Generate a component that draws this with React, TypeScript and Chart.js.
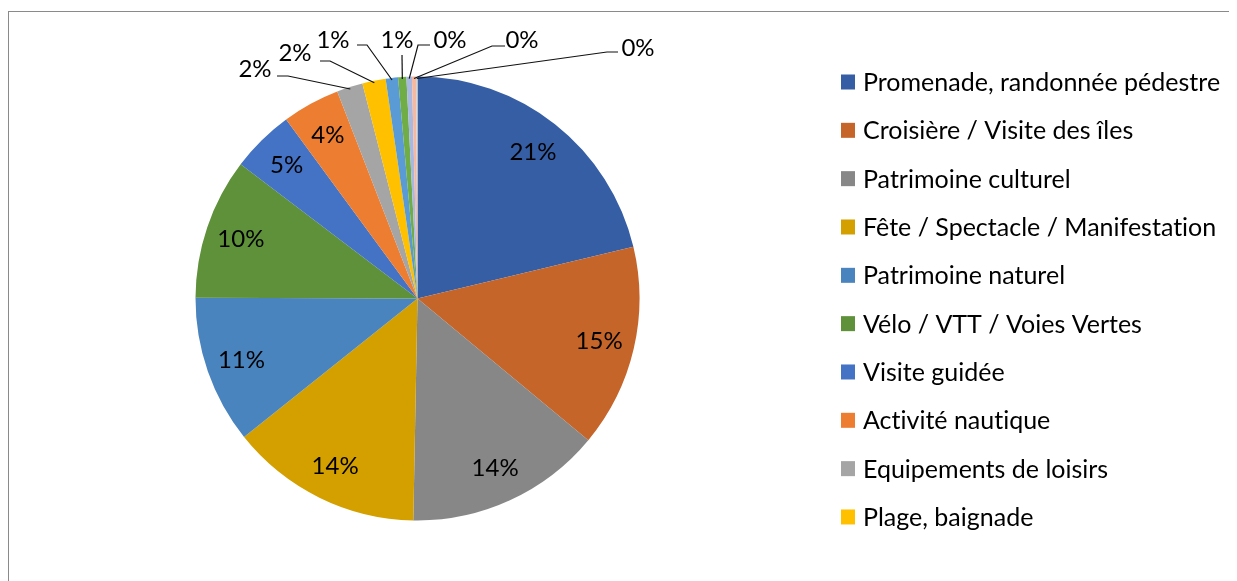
import React, { useEffect, useRef } from "react";
import { Chart, registerables } from "chart.js";

Chart.register(...registerables);

const categories = [
  "Promenade, randonnée pédestre",
  "Croisière / Visite des îles",
  "Patrimoine culturel",
  "Fête / Spectacle / Manifestation",
  "Patrimoine naturel",
  "Vélo / VTT / Voies Vertes",
  "Visite guidée",
  "Activité nautique",
  "Equipements de loisirs",
  "Plage, baignade",
  "Pêche",
  "Golf",
  "Equitation",
  "Shopping",
  "Autre",
];

const shares = [21.3, 14.8, 14.3, 14.0, 10.8, 10.3, 4.6, 4.2, 1.9, 1.7, 0.9, 0.6, 0.4, 0.3, 0.1];

const sliceColors = [
  "#365EA5",
  "#C5652A",
  "#878787",
  "#D4A000",
  "#4A84BE",
  "#5E913A",
  "#4472C4",
  "#ED7D31",
  "#A5A5A5",
  "#FFC000",
  "#5B9BD5",
  "#70AD47",
  "#A9B8E0",
  "#F4B9A0",
  "#D0D0D0",
];

const legendCount = 10;

// label placement for the small slices (offsets from the pie centre, px)
const outsideLabels: Record<number, { t: [number, number]; s: [number, number]; e: [number, number] }> = {
  8: { t: [-162.5, -229], s: [-140.5, -222.5], e: [-129.5, -222.5] },
  9: { t: [-122.5, -245], s: [-97.5, -237.5], e: [-87.5, -237.5] },
  10: { t: [-84.5, -258.5], s: [-60.5, -253.5], e: [-50.5, -253.5] },
  11: { t: [-20.5, -258.5], s: [-15.5, -243.5], e: [-15.5, -243.5] },
  12: { t: [32.5, -258.5], s: [12.5, -253.5], e: [0.5, -253.5] },
  13: { t: [104.5, -258.5], s: [87.5, -252.5], e: [74.5, -252.5] },
  14: { t: [220.5, -250.5], s: [200.5, -246.5], e: [189.5, -246.5] },
};

const FONT = "Lato";

const labelPlugin = {
  id: "pctLabels",
  afterDatasetsDraw(chart: any) {
    const ctx = chart.ctx;
    const meta = chart.getDatasetMeta(0);
    const data = chart.data.datasets[0].data as number[];
    const total = data.reduce((a, b) => a + b, 0);
    ctx.save();
    ctx.font = `24px ${FONT}`;
    ctx.fillStyle = "#000";
    ctx.textAlign = "center";
    ctx.textBaseline = "middle";
    ctx.strokeStyle = "#111";
    ctx.lineWidth = 1.2;
    meta.data.forEach((arc: any, i: number) => {
      const p = arc.getProps(["x", "y", "startAngle", "endAngle", "outerRadius"], true);
      const mid = (p.startAngle + p.endAngle) / 2;
      const txt = Math.round((data[i] / total) * 100) + "%";
      const o = outsideLabels[i];
      if (!o) {
        const d = p.outerRadius * 0.84;
        ctx.fillText(txt, p.x + Math.cos(mid) * d, p.y + Math.sin(mid) * d);
      } else {
        const ex = p.x + Math.cos(mid) * (p.outerRadius - 2);
        const ey = p.y + Math.sin(mid) * (p.outerRadius - 2);
        ctx.beginPath();
        ctx.moveTo(p.x + o.s[0], p.y + o.s[1]);
        ctx.lineTo(p.x + o.e[0], p.y + o.e[1]);
        ctx.lineTo(ex, ey);
        ctx.stroke();
        ctx.fillText(txt, p.x + o.t[0], p.y + o.t[1]);
      }
    });
    ctx.restore();
  },
};

const legendPlugin = {
  id: "sideLegend",
  afterDraw(chart: any) {
    const ctx = chart.ctx;
    const labels = chart.data.labels as string[];
    const bg = chart.data.datasets[0].backgroundColor as string[];
    ctx.save();
    ctx.font = `25px ${FONT}`;
    try {
      (ctx as any).textRendering = "optimizeSpeed";
    } catch (e) {}
    ctx.textAlign = "left";
    ctx.textBaseline = "middle";
    for (let i = 0; i < Math.min(legendCount, labels.length); i++) {
      const cy = 70 + i * 48.33;
      ctx.fillStyle = bg[i];
      ctx.fillRect(832, cy - 7.5, 14, 15);
      ctx.fillStyle = "#000";
      ctx.fillText(labels[i], 854, cy + 1);
    }
    ctx.restore();
  },
};

export default function App() {
  const ref = useRef<HTMLCanvasElement | null>(null);
  useEffect(() => {
    if (!ref.current) return;
    const chart = new Chart(ref.current, {
      type: "pie",
      data: {
        labels: categories,
        datasets: [
          {
            data: shares,
            backgroundColor: sliceColors,
            borderWidth: 0,
          },
        ],
      },
      options: {
        responsive: false,
        animation: false,
        devicePixelRatio: 1,
        layout: { padding: { left: 186.5, right: 597.5, top: 64.5, bottom: 60.5 } },
        plugins: {
          legend: { display: false },
          tooltip: { enabled: false },
          title: { display: false },
        },
      },
      plugins: [labelPlugin, legendPlugin],
    });
    return () => chart.destroy();
  }, []);
  return (
    <div
      style={{
        marginTop: 3,
        borderTop: "1px solid #8a8a8a",
        borderLeft: "1px solid #8a8a8a",
        width: 1228,
        height: 569,
        background: "#fff",
      }}
    >
      <canvas ref={ref} width={1228} height={569} style={{ display: "block" }} />
    </div>
  );
}
